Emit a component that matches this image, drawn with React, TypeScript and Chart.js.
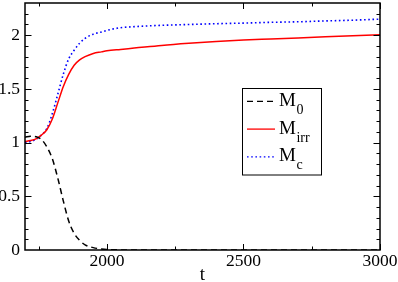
import { useEffect, useRef } from 'react';
import { Chart, registerables } from 'chart.js';

Chart.register(...registerables);

const tValues = [1700, 1720, 1740, 1760, 1780, 1800, 1820, 1840, 1860, 1880, 1900, 1920, 1950, 1980, 2000, 2050, 2100, 2200, 2300, 2400, 2500, 2600, 2700, 2800, 2900, 3000];
const m0Values = [1.05, 1.06, 1.055, 1.03, 0.96, 0.85, 0.67, 0.46, 0.27, 0.155, 0.09, 0.048, 0.022, 0.01, 0.005, 0.001, 0, 0, 0, 0, 0, 0, 0, 0, 0, 0];
const mIrrValues = [1.01, 1.02, 1.035, 1.07, 1.12, 1.22, 1.37, 1.52, 1.635, 1.72, 1.77, 1.8, 1.83, 1.845, 1.855, 1.868, 1.88, 1.905, 1.925, 1.942, 1.955, 1.965, 1.975, 1.985, 1.995, 2.005];
const mcValues = [1.0, 1.01, 1.03, 1.07, 1.13, 1.27, 1.45, 1.635, 1.78, 1.86, 1.925, 1.97, 2.01, 2.03, 2.045, 2.07, 2.08, 2.092, 2.1, 2.107, 2.113, 2.12, 2.125, 2.133, 2.14, 2.15];

const xTickValues = [2000, 2500, 3000];
const yTickValues = [0, 0.5, 1, 1.5, 2];
const seriesLabels = ['M0', 'Mirr', 'Mc'];
const legendBase = ['M', 'M', 'M'];
const legendSubs = ['0', 'irr', 'c'];

const FONT = "'Liberation Serif', 'DejaVu Serif', serif";

const framePlugin = {
  id: 'frameTicks',
  afterDatasetsDraw(chart: any) {
    const { ctx, chartArea: a, scales } = chart;
    const x = scales.x;
    const y = scales.y;
    ctx.save();
    ctx.strokeStyle = '#000';
    ctx.lineWidth = 1;
    ctx.beginPath();
    for (let v = 1750; v <= 3000; v += 250) {
      const px = Math.round(x.getPixelForValue(v)) + 0.5;
      const L = v % 500 === 0 ? 6 : 3.5;
      ctx.moveTo(px, a.bottom);
      ctx.lineTo(px, a.bottom - L);
      ctx.moveTo(px, a.top);
      ctx.lineTo(px, a.top + L);
    }
    for (let k = 1; k <= 22; k++) {
      const py = Math.round(y.getPixelForValue(k / 10)) + 0.5;
      const L = k % 5 === 0 ? 6.5 : 3.5;
      ctx.moveTo(a.left, py);
      ctx.lineTo(a.left + L, py);
      ctx.moveTo(a.right, py);
      ctx.lineTo(a.right - L, py);
    }
    ctx.stroke();
    ctx.lineWidth = 1.5;
    ctx.strokeRect(a.left, a.top, a.right - a.left, a.bottom - a.top);
    ctx.restore();
  },
  afterDraw(chart: any) {
    const { ctx, chartArea: a } = chart;
    const bx = a.left + 217;
    const by = a.top + 85;
    const bw = 79;
    const bh = 86.5;
    ctx.save();
    ctx.fillStyle = '#fff';
    ctx.fillRect(bx, by, bw, bh);
    ctx.strokeStyle = '#000';
    ctx.lineWidth = 1;
    ctx.strokeRect(bx + 0.5, by + 0.5, bw, bh);
    chart.data.datasets.forEach((ds: any, i: number) => {
      const base = by + 17.7 + i * 27.8;
      const ly = base - 4.4;
      ctx.save();
      ctx.strokeStyle = ds.borderColor;
      ctx.lineWidth = Math.min(ds.borderWidth, 1.3);
      ctx.setLineDash(ds.borderDash || []);
      ctx.beginPath();
      ctx.moveTo(bx + 5, ly);
      ctx.lineTo(bx + 33, ly);
      ctx.stroke();
      ctx.restore();
      ctx.fillStyle = '#000';
      ctx.textBaseline = 'alphabetic';
      ctx.textAlign = 'left';
      ctx.font = `19px ${FONT}`;
      ctx.fillText(legendBase[i], bx + 37, base);
      const w = ctx.measureText(legendBase[i]).width;
      ctx.font = `14px ${FONT}`;
      ctx.fillText(legendSubs[i], bx + 37 + w + 0.5, base + 8);
    });
    ctx.restore();
  },
};

export default function App() {
  const ref = useRef<HTMLCanvasElement | null>(null);
  useEffect(() => {
    document.body.style.margin = '0';
    if (!ref.current) return;
    const mk = (vals: number[]) => tValues.map((t, i) => ({ x: t, y: vals[i] }));
    const tickFont = { family: FONT, size: 17.5 };
    const chart = new Chart(ref.current, {
      type: 'line',
      data: {
        datasets: [
          { label: seriesLabels[0], data: mk(m0Values), borderColor: '#000000', borderWidth: 1.5, borderDash: [6, 4], pointRadius: 0, cubicInterpolationMode: 'monotone', fill: false },
          { label: seriesLabels[1], data: mk(mIrrValues), borderColor: '#ff0000', borderWidth: 1.5, pointRadius: 0, cubicInterpolationMode: 'monotone', fill: false },
          { label: seriesLabels[2], data: mk(mcValues), borderColor: '#0000ff', borderWidth: 1.6, borderDash: [1.6, 2.6], pointRadius: 0, cubicInterpolationMode: 'monotone', fill: false },
        ],
      },
      options: {
        animation: false,
        responsive: false,
        devicePixelRatio: 1,
        layout: { padding: { top: 3, right: 18, left: 0, bottom: 0 } },
        plugins: { legend: { display: false }, tooltip: { enabled: false } },
        scales: {
          x: {
            type: 'linear',
            min: 1700,
            max: 3000,
            grid: { display: false, drawTicks: false },
            border: { display: false },
            ticks: { font: tickFont, color: '#000', padding: 1, maxRotation: 0, callback: (v: any) => String(v) },
            afterBuildTicks: (s: any) => { s.ticks = xTickValues.map((v) => ({ value: v })); },
            afterFit: (s: any) => { s.height = 32; s.paddingLeft = 0; s.paddingRight = 0; },
            title: { display: true, text: 't', font: { family: FONT, size: 19, lineHeight: 1 }, color: '#000', padding: { top: 0, bottom: -3 } },
          },
          y: {
            type: 'linear',
            min: 0,
            max: 2.3,
            grid: { display: false, drawTicks: false },
            border: { display: false },
            ticks: { font: tickFont, color: '#000', padding: 5, callback: (v: any) => String(v) },
            afterBuildTicks: (s: any) => { s.ticks = yTickValues.map((v) => ({ value: v })); },
            afterFit: (s: any) => { s.width = 25; s.paddingTop = 0; s.paddingBottom = 0; },
          },
        },
      },
      plugins: [framePlugin],
    } as any);
    return () => chart.destroy();
  }, []);
  return (
    <div style={{ width: 398, height: 282 }}>
      <canvas ref={ref} width={398} height={282} />
    </div>
  );
}
